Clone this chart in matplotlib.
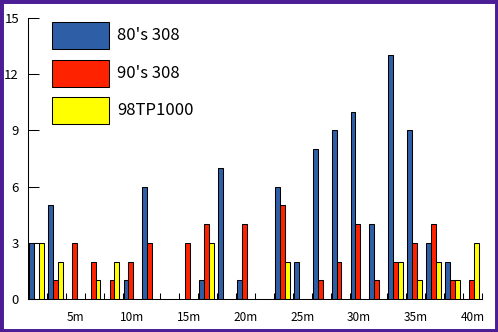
import matplotlib
matplotlib.use("Agg")
import matplotlib.pyplot as plt
from matplotlib.patches import Rectangle
import numpy as np

plt.rcParams['font.family'] = ['Noto Sans CJK JP', 'DejaVu Sans']

# 24 distance bins; labelled every third bin
tick_labels = ["", "", "5m", "", "", "10m", "", "", "15m", "", "", "20m",
               "", "", "25m", "", "", "30m", "", "", "35m", "", "", "40m"]
series_names = ["80's 308", "90's 308", "98TP1000"]
blue_vals   = [3, 5, 0, 0, 0, 1, 6, 0, 0, 1, 7, 1, 0, 6, 2, 8, 9, 10, 4, 13, 9, 3, 2, 0]
red_vals    = [3, 1, 3, 2, 1, 2, 3, 0, 3, 4, 0, 4, 0, 5, 0, 1, 2, 4, 1, 2, 3, 4, 1, 1]
yellow_vals = [3, 2, 0, 1, 2, 0, 0, 0, 0, 3, 0, 0, 0, 2, 0, 0, 0, 0, 0, 2, 1, 2, 1, 3]
y_ticks = [0, 3, 6, 9, 12, 15]

colors = ["#2E5FA6", "#FF2200", "#FFFF00"]

W, H = 498, 332
fig = plt.figure(figsize=(W / 100, H / 100), dpi=100)
fig.patch.set_facecolor("white")

def fx(px):
    return px / W

def fy(py):
    return 1 - py / H

ax = fig.add_axes([fx(28), fy(299), fx(482) - fx(28), fy(18) - fy(299)])

x = np.arange(len(tick_labels))
bw = 0.26
shift = -0.06
all_vals = [blue_vals, red_vals, yellow_vals]
bar_sets = []
for k, vals in enumerate(all_vals):
    vals = np.array(vals)
    bars = ax.bar(x + shift + (k - 1) * bw, vals, width=bw, color=colors[k],
                  edgecolor="black", linewidth=0.75, zorder=2)
    for b, v in zip(bars, vals):
        if v == 0:
            b.set_visible(False)
    bar_sets.append(bars)
# first red bar appears unfilled in the reference
bar_sets[1][0].set_facecolor("white")

ax.set_xlim(-0.5, len(tick_labels) - 0.5)
ax.set_ylim(0, 15)

ax.set_xticks(x)
ax.set_xticklabels(tick_labels, fontsize=8.5)
ax.tick_params(axis="x", which="major", length=0, pad=8.5)
ax.set_xticks(np.arange(0.5, len(tick_labels), 1.0), minor=True)
ax.tick_params(axis="x", which="minor", direction="in", length=4.5, width=0.75)

ax.set_yticks(y_ticks)
ax.set_yticklabels([str(v) for v in y_ticks], fontsize=9.5)
ax.tick_params(axis="y", direction="in", length=8, width=0.75, pad=6.5)

for s in ["top", "right"]:
    ax.spines[s].set_visible(False)
for s in ["left", "bottom"]:
    ax.spines[s].set_linewidth(0.75)
    ax.spines[s].set_zorder(3)

# legend drawn as boxes with labels
box_tops = [22, 60, 97]
for k, name in enumerate(series_names):
    top = box_tops[k]
    fig.add_artist(Rectangle((fx(52), fy(top + 27)), fx(109) - fx(52), fy(top) - fy(top + 27),
                             transform=fig.transFigure, facecolor=colors[k],
                             edgecolor="black", linewidth=0.75))
    fig.text(fx(117), fy(top + 14), name, fontsize=12, va="center", ha="left")

# purple frame
fig.add_artist(Rectangle((0, 0), 1, 1, transform=fig.transFigure, fill=False,
                         edgecolor="#4B1E96", linewidth=5))

fig.savefig("out.png", dpi=100)
